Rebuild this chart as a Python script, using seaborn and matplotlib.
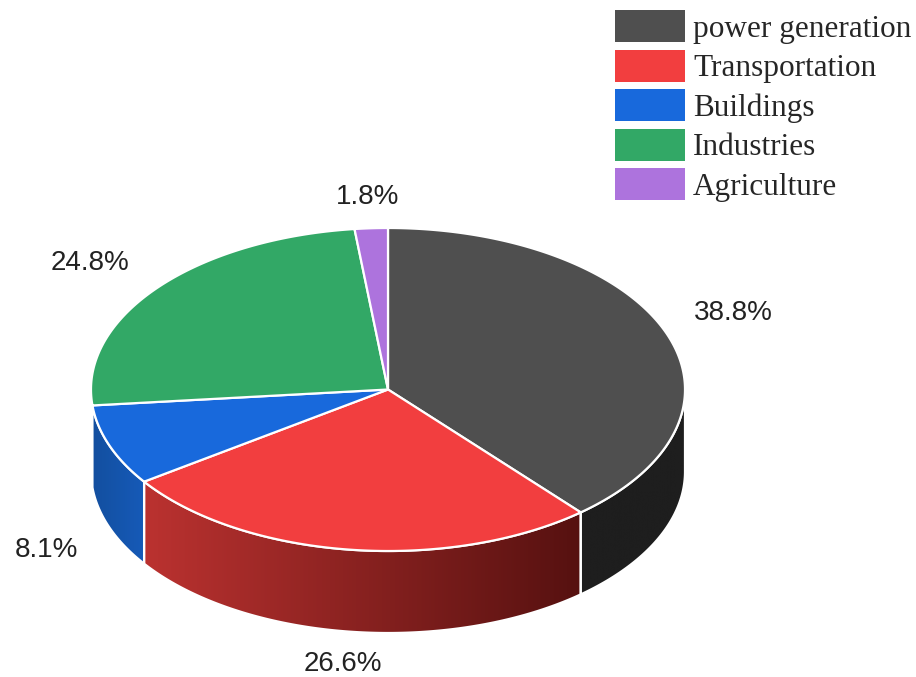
import numpy as np
import seaborn as sns
import matplotlib.pyplot as plt
from matplotlib.colors import LinearSegmentedColormap
from matplotlib.patches import Patch, Polygon

sectors = ['power generation', 'Transportation', 'Buildings', 'Industries', 'Agriculture']
shares = [38.8, 26.6, 8.1, 24.8, 1.8]
share_labels = ['38.8%', '26.6%', '8.1%', '24.8%', '1.8%']

top_colors = ['#4f4f4f', '#f23e3f', '#1869dc', '#32a866', '#ad73dd']
# left and right colour of the rim, only the front slices show one
side_colors = [('#1e1e1e', '#1e1e1e'), ('#bb3230', '#561110'), ('#134f9f', '#165ab8'), None, None]
label_pos = [(733, 313), (343, 664), (46, 550), (90, 263), (368, 197)]

cx, cy = 388, 389.5
rx, ry = 297, 161.5
depth = 82
edge = '#ffffff'

sns.set_theme(style='white')
plt.rcParams['font.family'] = ['Liberation Sans', 'DejaVu Sans']
palette = sns.color_palette(top_colors)

fig = plt.figure(figsize=(9.16, 6.77), dpi=100)
ax = fig.add_axes([0, 0, 1, 1])


def arc(a0, a1, shift=0):
    t = np.radians(np.linspace(a0, a1, 200))
    return np.column_stack([cx + rx * np.sin(t), cy - ry * np.cos(t) + shift])


# slice edges in degrees, clockwise from 12 o'clock
ends = np.cumsum([0] + shares) / np.sum(shares) * 360

# rim first, the top faces go over it
for i, sides in enumerate(side_colors):
    if sides is None:
        continue
    a0, a1 = max(ends[i], 90), min(ends[i + 1], 270)
    front = arc(a0, a1)
    pts = np.vstack([front, arc(a1, a0, depth)])
    poly = Polygon(pts, closed=True, facecolor='none', edgecolor='none')
    ax.add_patch(poly)
    xs = (pts[:, 0].min(), pts[:, 0].max())
    ys = (pts[:, 1].min(), pts[:, 1].max())
    cmap = LinearSegmentedColormap.from_list('rim', list(sides))
    img = ax.imshow(np.linspace(0, 1, 256).reshape(1, -1), cmap=cmap, aspect='auto',
                    extent=(xs[0], xs[1], ys[1], ys[0]), zorder=1)
    img.set_clip_path(poly)
    ax.add_patch(Polygon(pts, closed=True, facecolor='none', edgecolor=edge, lw=1.6, zorder=2))

for i, color in enumerate(palette):
    pts = np.vstack([[cx, cy], arc(ends[i], ends[i + 1])])
    ax.add_patch(Polygon(pts, closed=True, facecolor=color, edgecolor=edge, lw=1.6, zorder=3))

for text, (x, y) in zip(share_labels, label_pos):
    ax.text(x, y, text, fontsize=20, color='#222222', ha='center', va='center')

handles = [Patch(facecolor=c, edgecolor='none') for c in palette]
ax.legend(handles, sectors, loc='upper left', bbox_to_anchor=(615, 10),
          bbox_transform=ax.transData, frameon=False, borderpad=0, borderaxespad=0,
          prop={'family': 'Liberation Serif', 'size': 22.5},
          handlelength=2.24, handleheight=1.2, handletextpad=0.256, labelspacing=0.19)

ax.set_xlim(0, 916)
ax.set_ylim(677, 0)
ax.axis('off')

plt.savefig('out.png', dpi=100)
plt.close()
